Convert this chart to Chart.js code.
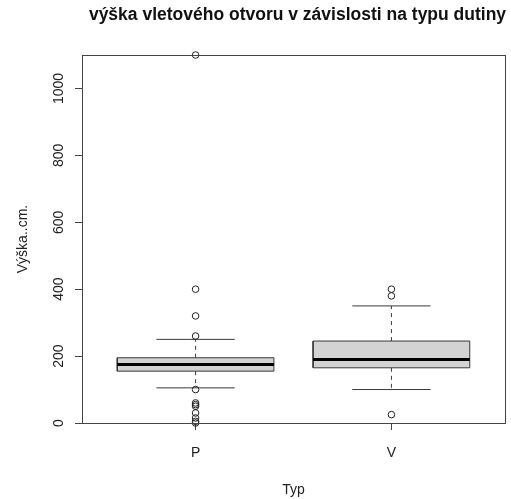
<!DOCTYPE html>
<html>
<head>
<meta charset="utf-8">
<script src="https://cdn.jsdelivr.net/npm/chart.js@4/dist/chart.umd.min.js"></script>
<style>
  body { margin: 0; background: #fff; }
  #wrap { width: 511px; height: 499px; }
</style>
</head>
<body>
<div id="wrap"><canvas id="boxChart" width="511" height="499"></canvas></div>
<script>
const categories = ["P", "V"];
const lowWhisker = [105, 100];
const q1 = [155, 165];
const median = [175, 190];
const q3 = [195, 245];
const highWhisker = [250, 350];
const outliers = [
  [1100, 400, 320, 260, 100, 60, 55, 50, 30, 15, 5, 0],
  [400, 380, 25],
];
const yTicks = [0, 200, 400, 600, 800, 1000];

const titleText = "výška vletového otvoru v závislosti na typu dutiny";
const fontFamily = "'Liberation Sans', Arial, sans-serif";
const lineColor = "#3a3a3a";

function lineSet(points, extra) {
  return Object.assign(
    {
      data: points,
      showLine: true,
      borderColor: lineColor,
      borderWidth: 1,
      pointRadius: 0,
      tension: 0,
      fill: false,
    },
    extra
  );
}

const datasets = [];
categories.forEach((cat, i) => {
  const x = i + 1;
  // box
  datasets.push(
    lineSet(
      [
        { x: x - 0.4, y: q1[i] },
        { x: x + 0.4, y: q1[i] },
        { x: x + 0.4, y: q3[i] },
        { x: x - 0.4, y: q3[i] },
        { x: x - 0.4, y: q1[i] },
      ],
      { fill: "shape", backgroundColor: "#d3d3d3", order: 5 }
    )
  );
  // median
  datasets.push(
    lineSet(
      [
        { x: x - 0.4, y: median[i] },
        { x: x + 0.4, y: median[i] },
      ],
      { borderColor: "#000", borderWidth: 3, order: 1 }
    )
  );
  // whiskers (dashed) + caps
  datasets.push(
    lineSet([{ x: x, y: q3[i] }, { x: x, y: highWhisker[i] }], { borderDash: [4, 4], order: 3 })
  );
  datasets.push(
    lineSet([{ x: x, y: q1[i] }, { x: x, y: lowWhisker[i] }], { borderDash: [4, 4], order: 3 })
  );
  datasets.push(
    lineSet([{ x: x - 0.2, y: highWhisker[i] }, { x: x + 0.2, y: highWhisker[i] }], { order: 3 })
  );
  datasets.push(
    lineSet([{ x: x - 0.2, y: lowWhisker[i] }, { x: x + 0.2, y: lowWhisker[i] }], { order: 3 })
  );
  // outliers
  datasets.push({
    data: outliers[i].map((v) => ({ x: x, y: v })),
    showLine: false,
    pointRadius: 3.3,
    pointBorderWidth: 1,
    pointBackgroundColor: "rgba(0,0,0,0)",
    pointBorderColor: "#222",
    clip: false,
    order: 0,
  });
});

const rDecor = {
  id: "rDecor",
  afterDraw(chart) {
    const ctx = chart.ctx;
    const area = chart.chartArea;
    const yScale = chart.scales.y;
    ctx.save();
    // plot frame
    ctx.strokeStyle = "#444";
    ctx.lineWidth = 1;
    ctx.strokeRect(area.left + 0.5, area.top + 0.5, area.right - area.left, area.bottom - area.top);
    // rotated y tick labels
    ctx.fillStyle = "#222";
    ctx.font = "14px " + fontFamily;
    ctx.textAlign = "center";
    ctx.textBaseline = "alphabetic";
    yTicks.forEach((v) => {
      const py = yScale.getPixelForValue(v);
      ctx.save();
      ctx.translate(area.left - 19, py);
      ctx.rotate(-Math.PI / 2);
      ctx.fillText(String(v), 0, 0);
      ctx.restore();
    });
    // main title
    ctx.font = "bold 17.5px " + fontFamily;
    ctx.fillStyle = "#111";
    ctx.fillText(titleText, (area.left + area.right) / 2 + 4, 20);
    ctx.restore();
  },
};

const ctx = document.getElementById("boxChart").getContext("2d");
new Chart(ctx, {
  type: "scatter",
  data: { datasets: datasets },
  options: {
    responsive: false,
    animation: false,
    layout: { padding: { top: 55, right: 6, left: 0, bottom: 0 } },
    plugins: {
      legend: { display: false },
      tooltip: { enabled: false },
    },
    scales: {
      x: {
        type: "linear",
        min: 0.42,
        max: 2.58,
        afterBuildTicks: (scale) => {
          scale.ticks = categories.map((c, i) => ({ value: i + 1 }));
        },
        afterFit: (scale) => {
          scale.height = 76;
        },
        grid: { drawOnChartArea: false, drawTicks: true, tickLength: 7, color: "#444" },
        border: { display: true, color: "#444" },
        ticks: {
          padding: 15,
          color: "#222",
          font: { family: fontFamily, size: 14 },
          callback: (value) => categories[value - 1],
        },
        title: {
          display: true,
          text: "Typ",
          color: "#222",
          font: { family: fontFamily, size: 14 },
          padding: { top: 0, bottom: 0 },
        },
      },
      y: {
        type: "linear",
        min: 0,
        max: 1100,
        afterBuildTicks: (scale) => {
          scale.ticks = yTicks.map((v) => ({ value: v }));
        },
        afterFit: (scale) => {
          scale.width = 82;
        },
        grid: { drawOnChartArea: false, drawTicks: true, tickLength: 7, color: "#444" },
        border: { display: true, color: "#444" },
        ticks: { display: false },
        title: {
          display: true,
          text: "Výška..cm.",
          color: "#222",
          font: { family: fontFamily, size: 14 },
          padding: { top: 15, bottom: 0 },
        },
      },
    },
  },
  plugins: [rDecor],
});
</script>
</body>
</html>
